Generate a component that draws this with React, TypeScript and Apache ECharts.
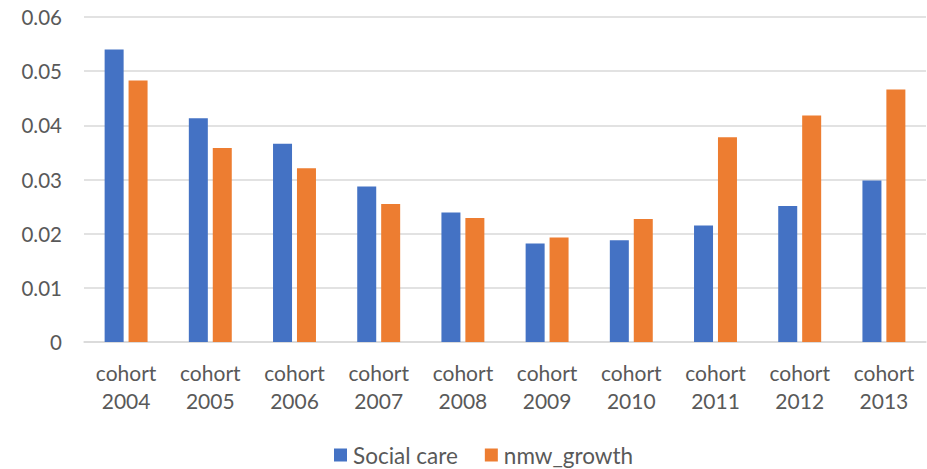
import React, { useEffect, useRef } from "react";
import * as echarts from "echarts";

const categories = [
  "cohort\n2004",
  "cohort\n2005",
  "cohort\n2006",
  "cohort\n2007",
  "cohort\n2008",
  "cohort\n2009",
  "cohort\n2010",
  "cohort\n2011",
  "cohort\n2012",
  "cohort\n2013",
];

const socialCare = [0.054, 0.0413, 0.0366, 0.0287, 0.0239, 0.0182, 0.0188, 0.0215, 0.0251, 0.0298];
const nmwGrowth = [0.0483, 0.0358, 0.0321, 0.0255, 0.0229, 0.0193, 0.0227, 0.0378, 0.0418, 0.0466];

const FONT = "Lato, 'Open Sans', sans-serif";
const TEXT = "#595959";
const GRID = "#D9D9D9";

export default function App() {
  const ref = useRef<HTMLDivElement>(null);

  useEffect(() => {
    if (!ref.current) return;
    const chart = echarts.init(ref.current, undefined, { renderer: "svg" });
    chart.setOption({
      animation: false,
      backgroundColor: "#ffffff",
      textStyle: { fontFamily: FONT },
      grid: { left: 84, right: 1, top: 17, bottom: 127, containLabel: false },
      legend: {
        top: 443,
        left: 334,
        padding: 0,
        itemWidth: 13,
        itemHeight: 13,
        itemGap: 27,
        icon: "rect",
        textStyle: {
          fontFamily: FONT,
          fontSize: 22.5,
          lineHeight: 24,
          color: TEXT,
          padding: [0, 0, 0, 1],
        },
        data: ["Social care", "nmw_growth"],
      },
      xAxis: {
        type: "category",
        data: categories,
        axisTick: { show: false },
        axisLine: { lineStyle: { color: GRID, width: 1.5 } },
        axisLabel: {
          fontFamily: FONT,
          fontSize: 21,
          color: TEXT,
          margin: 16,
          lineHeight: 28,
          interval: 0,
        },
      },
      yAxis: {
        type: "value",
        min: 0,
        max: 0.06,
        interval: 0.01,
        axisLine: { show: false },
        axisTick: { show: false },
        splitLine: { lineStyle: { color: GRID, width: 1.5 } },
        axisLabel: {
          fontFamily: FONT,
          fontSize: 20.5,
          color: TEXT,
          margin: 22,
          formatter: (v: number) => (v === 0 ? "0" : v.toFixed(2)),
        },
      },
      series: [
        {
          name: "Social care",
          type: "bar",
          data: socialCare,
          barWidth: 19,
          barGap: "26%",
          itemStyle: { color: "#4472C4" },
        },
        {
          name: "nmw_growth",
          type: "bar",
          data: nmwGrowth,
          barWidth: 19,
          barGap: "26%",
          itemStyle: { color: "#ED7D31" },
        },
      ],
    });
    return () => chart.dispose();
  }, []);

  return (
    <div
      ref={ref}
      style={{ position: "fixed", left: 0, top: 0, width: 927, height: 469 }}
    />
  );
}
